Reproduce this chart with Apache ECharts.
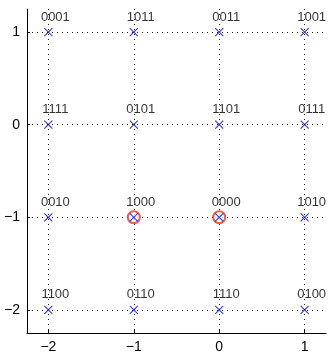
<!DOCTYPE html>
<html><head><meta charset="utf-8">
<script src="https://cdn.jsdelivr.net/npm/echarts@6/dist/echarts.min.js"></script>
<style>html,body{margin:0;padding:0;background:#fff}#c{width:330px;height:354px}</style>
</head><body><div id="c"></div>
<script>
const xs = [-2, -1, 0, 1, -2, -1, 0, 1, -2, -1, 0, 1, -2, -1, 0, 1];
const ys = [1, 1, 1, 1, 0, 0, 0, 0, -1, -1, -1, -1, -2, -2, -2, -2];
const codes = ['0001','1011','0011','1001','1111','0101','1101','0111','0010','1000','0000','1010','1100','0110','1110','0100'];
const circX = [-1, 0];
const circY = [-1, -1];
const xTicks = [-2, -1, 0, 1];
const yTicks = [-2, -1, 0, 1];

const pts = xs.map((x, i) => ({value: [x, ys[i]], name: codes[i]}));
const circ = circX.map((x, i) => [x, circY[i]]);
const fmt = v => String(v).replace('-', '\u2212');
const font = 'Liberation Sans, Arial, sans-serif';

function axis(ticks, margin) {
  return {
    type: 'value', min: -2.25, max: 1.25,
    axisLine: {show: true, onZero: false, lineStyle: {color: '#000', width: 1}},
    axisTick: {show: true, inside: true, length: 3, customValues: ticks, lineStyle: {color: '#000'}},
    axisLabel: {color: '#000', fontSize: 14, fontFamily: font, formatter: fmt, customValues: ticks, margin: margin},
    splitLine: {show: true, lineStyle: {color: '#222', type: [1, 4], width: 1}}
  };
}
const chart = echarts.init(document.getElementById('c'), null, {renderer: 'canvas'});
chart.setOption({
  animation: false,
  grid: {left: 27, right: 4, top: 9, bottom: 20, containLabel: false},
  xAxis: axis(xTicks, 7),
  yAxis: axis(yTicks, 7),
  series: [
    {
      type: 'scatter', data: pts,
      symbol: 'path://M0,0L10,10M10,0L0,10', symbolSize: 8,
      itemStyle: {color: 'none', borderColor: '#0000ff', borderWidth: 1.1},
      label: {show: true, position: 'top', distance: 2, offset: [7, 0], formatter: p => p.name,
        color: '#000', fontSize: 13, fontFamily: font, textBorderWidth: 0},
      z: 3
    },
    {
      type: 'scatter', data: circ, symbol: 'emptyCircle', symbolSize: 12,
      itemStyle: {color: '#e8341c', borderColor: '#e8341c', borderWidth: 1},
      z: 2
    }
  ]
});
</script></body></html>
